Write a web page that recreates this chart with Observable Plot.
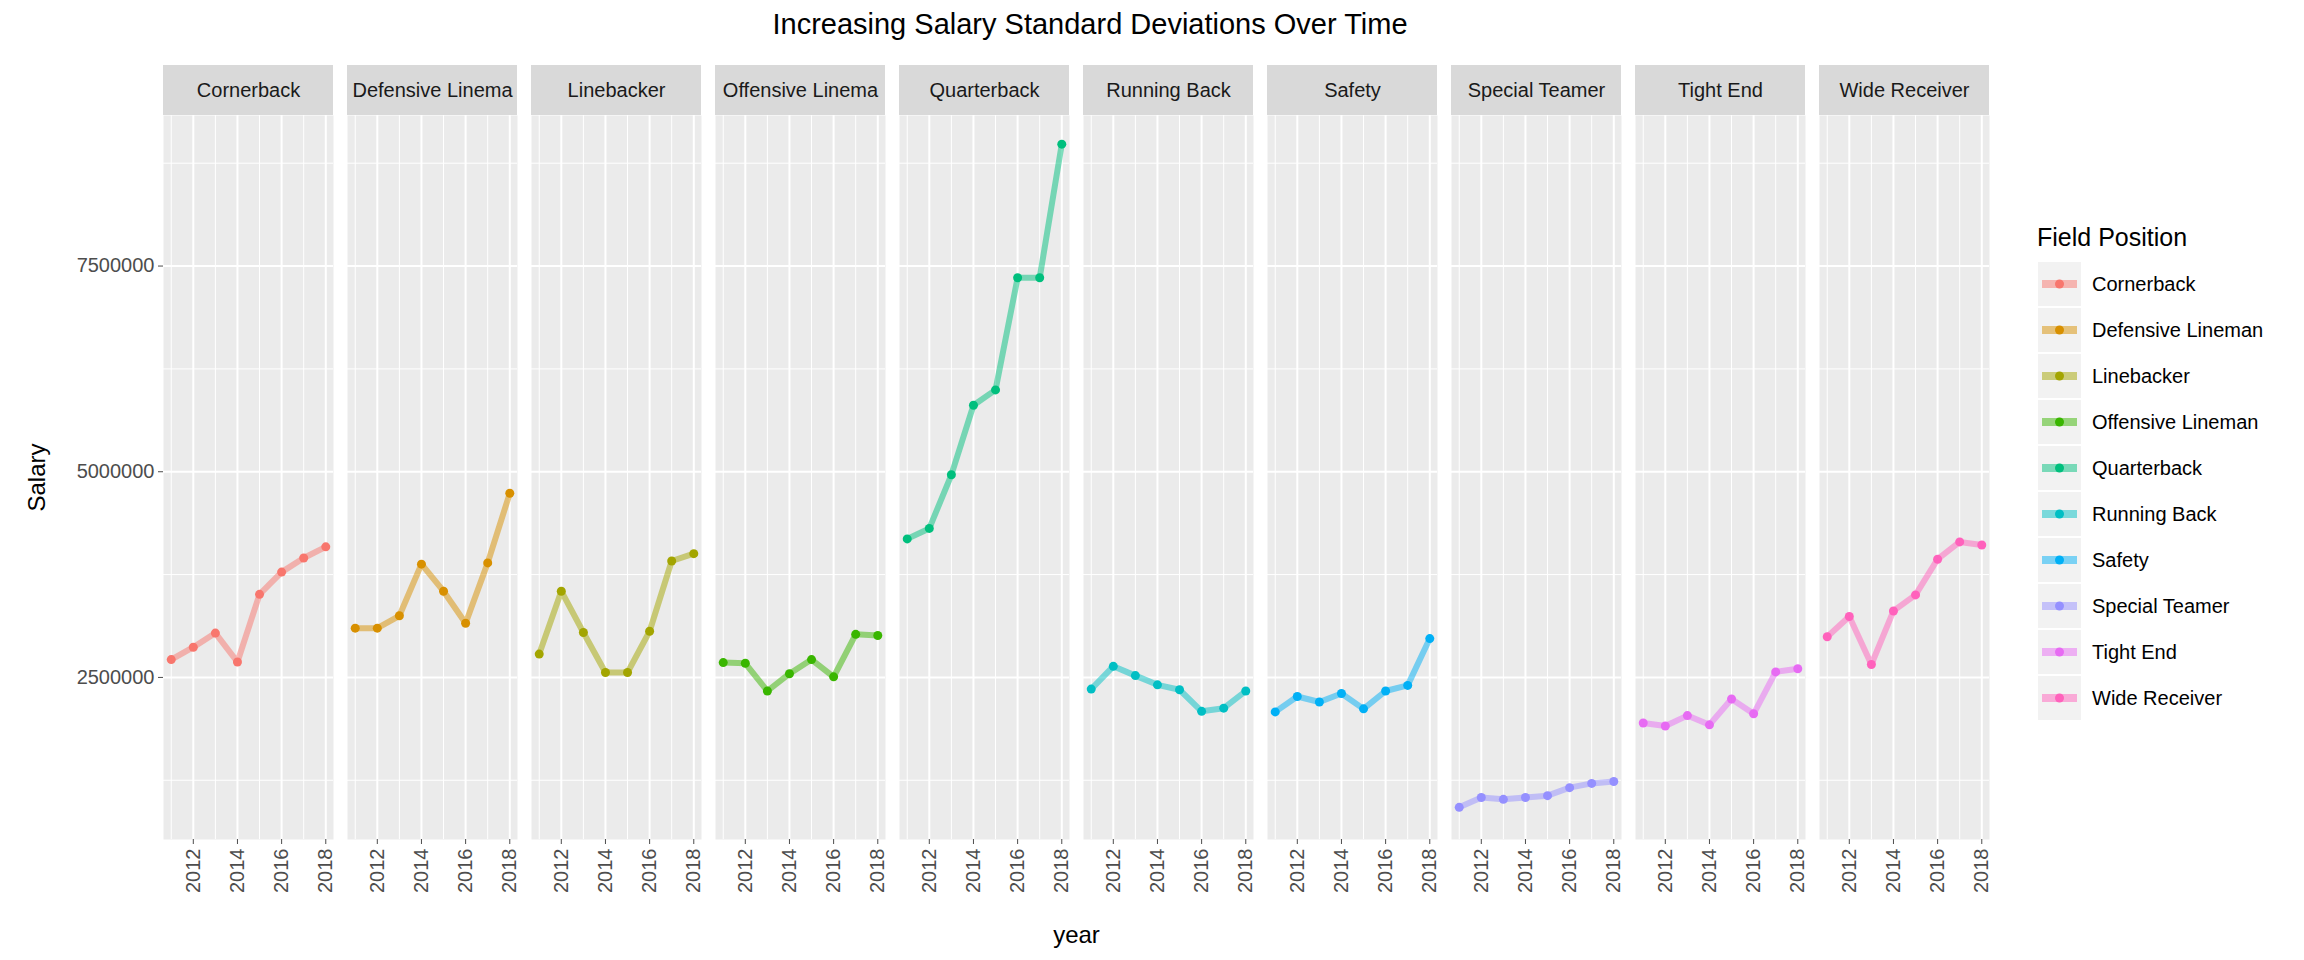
<!DOCTYPE html>
<html>
<head>
<meta charset="utf-8">
<script src="https://cdn.jsdelivr.net/npm/d3@7"></script>
<script src="https://cdn.jsdelivr.net/npm/@observablehq/plot@0.6"></script>
<style>
  body { margin: 0; background: #fff; font-family: Arial, "Liberation Sans", sans-serif; }
  #wrap { position: relative; width: 2304px; height: 960px; }
  #title { position: absolute; left: 0; width: 2020px; top: 8px; text-align: center; font-size: 29px; color: #000; margin-left: 80px; }
  #chart { position: absolute; left: 0; top: 0; }
  #legend { position: absolute; left: 2025px; top: 212px; }
</style>
</head>
<body>
<div id="wrap">
  <div id="chart"></div>
  <div id="title">Increasing Salary Standard Deviations Over Time</div>
  <div id="legend"></div>
</div>
<script>
// datos
const positions = ['Cornerback', 'Defensive Lineman', 'Linebacker', 'Offensive Lineman', 'Quarterback',
  'Running Back', 'Safety', 'Special Teamer', 'Tight End', 'Wide Receiver']
const colors = ['#F8766D', '#D89000', '#A3A500', '#39B600', '#00BF7D', '#00BFC4', '#00B0F6', '#9590FF', '#E76BF3', '#FF62BC']
const years = [2011, 2012, 2013, 2014, 2015, 2016, 2017, 2018]

const cornerback = [2717000, 2867000, 3039000, 2687000, 3510000, 3780000, 3952000, 4087000]
const defensiveLineman = [3099000, 3099000, 3249000, 3877000, 3548000, 3159000, 3892000, 4738000]
const linebacker = [2784000, 3548000, 3046000, 2560000, 2560000, 3061000, 3915000, 4004000]
const offensiveLineman = [2680000, 2672000, 2335000, 2545000, 2717000, 2507000, 3024000, 3009000]
const quarterback = [4184000, 4311000, 4963000, 5808000, 5995000, 7358000, 7358000, 8982000]
const runningBack = [2358000, 2635000, 2522000, 2410000, 2350000, 2088000, 2126000, 2335000]
const safety = [2081000, 2268000, 2201000, 2305000, 2118000, 2335000, 2403000, 2972000]
const specialTeamer = [921000, 1040000, 1018000, 1040000, 1063000, 1160000, 1212000, 1235000]
const tightEnd = [1946000, 1909000, 2036000, 1924000, 2238000, 2058000, 2567000, 2605000]
const wideReceiver = [2994000, 3241000, 2657000, 3308000, 3503000, 3937000, 4147000, 4109000]

const series = [cornerback, defensiveLineman, linebacker, offensiveLineman, quarterback,
  runningBack, safety, specialTeamer, tightEnd, wideReceiver]

const yMajor = [2500000, 5000000, 7500000]
const yMinor = [1250000, 3750000, 6250000, 8750000]
const xMajor = [2012, 2014, 2016, 2018]
const xMinor = [2011, 2013, 2015, 2017]

const data = []
positions.forEach((p, i) => years.forEach((y, j) => data.push({ posicion: p, year: y, salary: series[i][j] })))

const yDom = [530000, 9330000]
const xDom = [2010.65, 2018.35]
// franja gris de cada panel, en unidades de y por encima del dominio
const stripTop = yDom[1] + (yDom[1] - yDom[0]) * 50 / 724

const colorScale = { domain: positions, range: colors }

let chart = Plot.plot({
  width: 2020,
  height: 960,
  marginLeft: 160,
  marginRight: 27,
  marginTop: 115,
  marginBottom: 121,
  style: { fontFamily: 'Arial, "Liberation Sans", sans-serif', background: 'transparent' },
  fx: { domain: positions, paddingInner: 0.076, paddingOuter: 0, axis: null },
  x: { domain: xDom, ticks: xMajor, tickFormat: d3.format('d'), tickRotate: -90, label: 'year', labelAnchor: 'center', labelArrow: 'none' },
  y: { domain: yDom, ticks: yMajor, tickFormat: d3.format('d'), label: 'Salary', labelAnchor: 'center', labelArrow: 'none' },
  color: colorScale,
  marks: [
    Plot.frame({ fill: '#ebebeb', stroke: null }),
    Plot.gridY(yMinor, { stroke: '#fff', strokeOpacity: 1, strokeWidth: 1 }),
    Plot.gridX(xMinor, { stroke: '#fff', strokeOpacity: 1, strokeWidth: 1 }),
    Plot.gridY(yMajor, { stroke: '#fff', strokeOpacity: 1, strokeWidth: 2 }),
    Plot.gridX(xMajor, { stroke: '#fff', strokeOpacity: 1, strokeWidth: 2 }),
    Plot.rect(positions, { fx: d => d, x1: xDom[0], x2: xDom[1], y1: yDom[1], y2: stripTop, fill: '#d9d9d9' }),
    Plot.text(positions, { fx: d => d, x: (xDom[0] + xDom[1]) / 2, y: (yDom[1] + stripTop) / 2, text: d => d,
      fontSize: 20, fill: '#1a1a1a', lineWidth: 8.6, textOverflow: 'clip-end' }),
    Plot.line(data, { fx: 'posicion', x: 'year', y: 'salary', stroke: 'posicion', strokeWidth: 6, strokeOpacity: 0.5 }),
    Plot.dot(data, { fx: 'posicion', x: 'year', y: 'salary', fill: 'posicion', r: 4.5, stroke: null }),
    Plot.axisY({ ticks: yMajor, tickFormat: d3.format('d'), fontSize: 20, color: '#4d4d4d', tickSize: 5,
      label: 'Salary', labelAnchor: 'center', labelArrow: 'none', labelOffset: 136 }),
    Plot.axisX({ ticks: xMajor, tickFormat: d3.format('d'), tickRotate: -90, fontSize: 20, color: '#4d4d4d', tickSize: 5,
      label: null }),
  ],
})

d3.select(chart).selectAll('[aria-label="y-axis label"] text').attr('font-size', 24).attr('fill', '#000')
// título del eje x centrado bajo los paneles
d3.select(chart).append('text').attr('x', (160 + 1993) / 2).attr('y', 943)
  .attr('text-anchor', 'middle').attr('font-size', 24).text('year')

d3.select('#chart').append(() => chart)

// leyenda
const lg = d3.select('#legend').append('svg').attr('width', 279).attr('height', 520)
  .style('font-family', 'Arial, "Liberation Sans", sans-serif')
lg.append('text').attr('x', 12).attr('y', 34).attr('font-size', 25).text('Field Position')
positions.forEach((p, i) => {
  const g = lg.append('g').attr('transform', `translate(13, ${50 + i * 46})`)
  g.append('rect').attr('width', 43).attr('height', 44).attr('fill', '#f2f2f2')
  g.append('line').attr('x1', 4).attr('x2', 39).attr('y1', 22).attr('y2', 22)
    .attr('stroke', colors[i]).attr('stroke-width', 8).attr('stroke-opacity', 0.5)
  g.append('circle').attr('cx', 21.5).attr('cy', 22).attr('r', 4.5).attr('fill', colors[i])
  g.append('text').attr('x', 54).attr('y', 29).attr('font-size', 20).text(p)
})
</script>
</body>
</html>
